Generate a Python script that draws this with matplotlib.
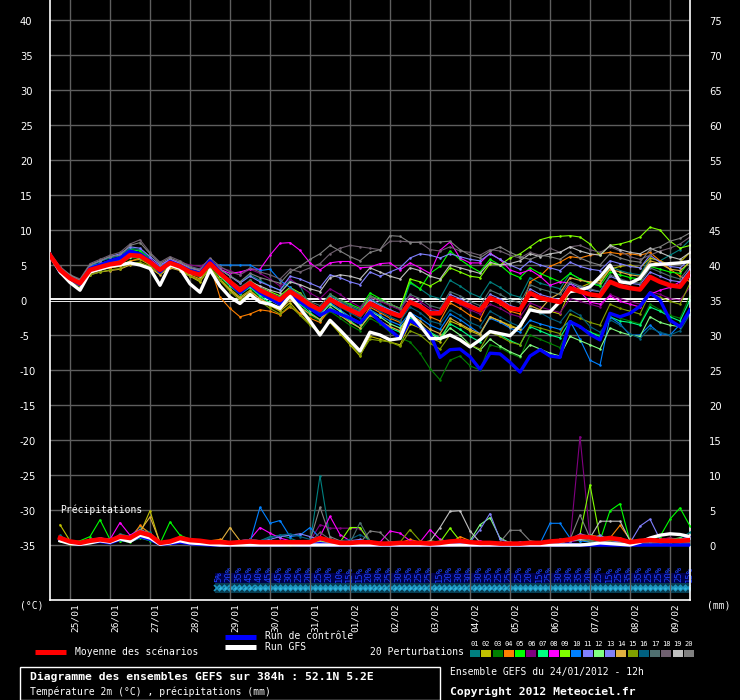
#!/usr/bin/env python3
"""GEFS ensemble diagram (Meteociel style): 2m temperature and precipitation, 52.1N 5.2E."""
import numpy as np
import matplotlib
matplotlib.use("Agg")
import matplotlib.pyplot as plt
import matplotlib.transforms as mtransforms
from matplotlib.lines import Line2D
from matplotlib.patches import Rectangle

plt.rcParams["font.family"] = ["DejaVu Sans Mono"]

W, H = 740, 700
STEP_H = 6
HOURS = list(range(0, 385, STEP_H))          # 65 forecast steps, 24/01 12h -> +384h
DAY_LABELS = ["25/01", "26/01", "27/01", "28/01", "29/01", "30/01", "31/01", "01/02",
              "02/02", "03/02", "04/02", "05/02", "06/02", "07/02", "08/02", "09/02"]

# temperature 2m (degC)
MEAN_T = [6.4, 4.3, 3.1, 2.4, 4.3, 4.7, 5.1, 5.3, 6.4, 6.3, 5.4, 4.3, 5.3, 4.8, 4.0, 3.6, 5.2,
          3.8, 2.6, 1.4, 2.4, 1.4, 0.7, 0.0, 1.2, 0.3, -0.7, -1.4, 0.1, -0.7, -1.4, -2.1,
          -0.5, -1.2, -1.8, -2.3, -0.3, -0.9, -1.9, -1.9, 0.3, -0.3, -0.9, -1.5, 0.3, -0.3, -1.2, -1.4,
          1.0, 0.3, 0.0, -0.3, 1.7, 1.2, 0.8, 0.6, 2.6, 2.0, 1.7, 1.5, 3.3, 2.6, 2.1, 1.9, 3.8]
CTRL_T = [6.5, 4.0, 3.0, 2.2, 4.5, 5.0, 5.6, 6.0, 7.0, 6.6, 5.6, 4.0, 5.5, 4.9, 4.2, 3.8, 5.6,
          4.0, 2.4, 1.0, 2.2, 1.0, 0.2, -0.6, 0.8, -0.3, -1.2, -2.2, -1.4, -2.0, -2.6, -3.3,
          -1.7, -3.1, -4.3, -5.5, -2.9, -3.8, -4.8, -8.2, -7.1, -7.0, -8.1, -9.9, -7.6, -7.7, -8.9, -10.3,
          -8.0, -7.1, -8.0, -8.2, -3.1, -3.8, -4.9, -5.7, -1.9, -2.4, -1.9, -0.9, 1.0, 0.0, -2.9, -3.8, -1.4]
GFS_T = [6.4, 4.0, 2.5, 1.4, 4.0, 4.4, 4.8, 5.0, 5.3, 5.0, 4.5, 2.1, 5.0, 4.5, 2.3, 1.1, 4.3,
         2.0, 0.4, -0.5, 0.8, -0.3, -0.6, -1.2, 0.6, -1.2, -3.0, -5.0, -2.9, -4.3, -5.8, -7.3,
         -4.6, -5.0, -5.7, -5.5, -1.9, -3.6, -5.5, -5.5, -5.0, -5.7, -6.7, -5.7, -4.5, -4.8, -5.1, -3.7,
         -1.4, -1.7, -1.7, -0.2, 1.2, 1.4, 1.9, 3.3, 5.0, 2.6, 2.4, 3.1, 5.0, 5.1, 5.2, 5.3, 5.5]
PERT_T = [
    [6.6, 4.5, 3.4, 2.6, 4.8, 5.5, 6.0, 6.3, 7.4, 7.2, 6.0, 4.6, 5.8, 5.2, 4.4, 4.0, 5.6,
     4.4, 3.5, 2.5, 3.6, 2.8, 2.0, 1.4, 2.8, 2.0, -0.8, -1.4, 0.6, -0.2, -1.0, -1.6,
     0.2, -0.6, -1.4, -2.0, 2.4, 1.6, 0.6, 0.2, 2.8, 2.0, 1.0, 0.4, 2.6, 1.8, 0.8, 0.4,
     3.2, 2.4, 2.0, 1.6, 3.8, 3.0, 2.4, 2.2, 4.8, 4.2, 3.8, 3.6, 6.0, 5.6, 6.4, 7.2, 8.6],
    [6.2, 4.0, 2.8, 2.0, 3.8, 4.3, 4.6, 4.8, 5.6, 5.8, 5.0, 3.8, 4.8, 4.4, 3.4, 2.6, 4.6,
     3.0, 1.6, 0.4, 1.4, 0.2, -0.8, -1.6, -0.4, -2.0, -3.4, -4.6, -3.2, -4.8, -6.4, -8.0,
     -5.2, -5.6, -6.0, -6.4, -3.4, -4.0, -5.4, -6.0, -3.0, -3.6, -4.4, -5.0, -2.4, -3.0, -3.6, -4.2,
     -1.2, -1.8, -1.6, -2.0, 1.4, 1.8, 2.4, 2.8, 4.4, 4.8, 5.0, 4.6, 6.0, 5.6, 5.0, 5.4, 6.8],
    [6.3, 4.2, 3.0, 2.3, 4.0, 4.4, 4.9, 5.0, 6.0, 6.0, 5.2, 4.0, 5.1, 4.6, 3.8, 3.2, 4.8,
     3.2, 2.0, 1.0, 1.8, 0.4, -0.6, -1.4, 0.2, -1.0, -2.2, -3.0, -1.6, -2.6, -3.6, -4.4,
     -2.6, -3.4, -4.6, -5.4, -6.0, -7.6, -9.8, -11.4, -8.6, -8.0, -9.4, -10.0, -6.4, -6.8, -7.6, -8.2,
     -5.0, -5.6, -6.2, -6.8, -3.4, -3.8, -4.6, -5.0, -2.0, -2.6, -3.0, -3.4, -0.6, -1.4, -2.2, -2.6, 0.6],
    [6.5, 4.4, 3.2, 2.5, 4.0, 4.4, 4.6, 4.9, 5.5, 6.0, 5.2, 4.0, 5.0, 4.5, 3.6, 3.0, 5.0,
     0.4, -1.2, -2.4, -2.0, -1.4, -1.6, -2.1, -1.0, -1.9, -2.6, -3.2, -1.2, -2.0, -2.8, -3.4,
     -1.0, -1.8, -2.6, -3.2, -0.2, -1.0, -2.4, -3.0, -0.4, -1.2, -2.2, -2.8, 0.2, -0.6, -1.6, -2.0,
     2.6, 3.4, 4.8, 5.4, 6.2, 6.0, 6.4, 6.6, 6.8, 6.6, 6.6, 6.4, 6.8, 5.6, 4.4, 3.4, 2.6],
    [6.4, 4.2, 3.2, 2.6, 4.6, 5.0, 5.6, 6.0, 7.2, 7.0, 5.8, 4.6, 5.6, 5.0, 4.2, 3.8, 5.4,
     3.6, 2.4, 1.2, 2.4, 1.0, 0.2, -0.6, 1.2, 0.2, -0.8, -1.6, 0.8, 0.0, -0.6, -1.2,
     1.0, 0.2, -0.6, -1.2, 2.6, 1.6, 3.8, 4.8, 7.0, 5.8, 4.8, 4.0, 5.8, 5.0, 3.8, 3.2,
     4.6, 3.8, 3.2, 2.6, 3.8, 3.0, 2.4, 2.0, 4.0, 3.6, 3.2, 3.0, 4.8, 4.4, 4.0, 3.8, 5.6],
    [6.6, 4.6, 3.4, 2.6, 4.4, 4.9, 5.4, 5.6, 6.6, 6.4, 5.6, 4.6, 5.8, 5.4, 5.0, 4.8, 5.6,
     4.6, 4.2, 3.6, 4.4, 3.8, 3.0, 2.0, 3.0, 2.0, 1.0, 0.2, 1.6, 0.8, -0.2, -1.0,
     0.4, -0.2, -0.8, -1.4, 0.6, -0.2, -1.2, -1.6, 0.2, -0.6, -1.4, -2.0, -0.6, -1.2, -2.0, -2.4,
     -0.4, -1.0, -1.4, -1.8, 0.2, -0.2, -0.6, -1.0, 0.8, 0.2, -0.2, -0.6, 1.2, 0.8, 0.2, 0.0, 1.8],
    [6.2, 4.0, 2.9, 2.2, 4.2, 4.6, 5.0, 5.2, 6.2, 6.0, 5.2, 4.2, 5.2, 4.6, 3.8, 3.4, 5.0,
     3.4, 2.0, 0.8, 1.8, 0.6, -0.4, -1.2, 0.4, -0.6, -1.8, -2.8, -1.0, -2.0, -3.0, -4.0,
     -2.0, -3.0, -4.0, -4.6, -2.6, -3.6, -4.6, -5.4, -3.4, -4.2, -5.2, -6.0, -4.4, -5.0, -5.8, -6.4,
     -3.8, -4.4, -5.0, -5.4, -3.0, -3.8, -4.6, -5.2, -2.4, -3.0, -3.2, -3.6, -1.0, -1.6, -2.4, -3.0, 0.0],
    [6.5, 4.4, 3.2, 2.6, 4.6, 5.2, 5.6, 5.8, 6.8, 6.6, 5.8, 4.8, 5.8, 5.2, 4.6, 4.2, 5.8,
     4.4, 3.8, 4.0, 4.4, 4.4, 6.4, 8.1, 8.2, 7.1, 5.3, 4.3, 5.3, 5.5, 5.5, 4.6,
     4.7, 5.2, 5.3, 4.3, 5.3, 4.6, 3.8, 7.1, 8.3, 6.0, 5.3, 5.3, 6.7, 5.8, 4.3, 3.8,
     4.3, 3.4, 2.1, 2.6, 2.4, 1.2, -0.3, -0.6, 0.6, -0.2, -0.6, -1.0, 0.8, 1.4, 1.8, 2.6, 3.6],
    [6.4, 4.2, 3.0, 2.4, 4.4, 4.8, 5.2, 5.4, 6.4, 6.4, 5.6, 4.4, 5.4, 4.8, 4.0, 3.6, 5.4,
     3.6, 2.4, 1.6, 2.8, 1.8, 1.2, 0.6, 1.8, 1.0, -0.4, -1.2, 0.2, -0.6, -1.4, -2.0,
     0.6, 0.0, -0.6, -1.2, 3.0, 2.6, 2.0, 2.8, 4.6, 4.0, 3.4, 3.2, 5.2, 5.0, 6.0, 6.6,
     7.6, 8.6, 9.0, 9.1, 9.2, 9.0, 8.0, 6.4, 7.8, 8.0, 8.4, 9.0, 10.4, 10.0, 8.4, 7.4, 7.8],
    [6.6, 4.6, 3.4, 2.8, 4.8, 5.2, 5.6, 5.8, 6.6, 6.2, 5.6, 4.8, 5.6, 5.0, 4.6, 4.4, 5.0,
     5.0, 5.0, 5.0, 5.0, 4.2, 4.4, 2.8, 1.8, 0.6, -0.6, -2.0, -0.4, -1.4, -2.4, -3.2,
     -1.4, -2.2, -3.0, -3.6, -1.8, -2.6, -3.6, -4.2, -2.0, -2.8, -3.8, -4.8, -2.6, -3.2, -4.0, -4.6,
     -2.9, -3.4, -3.8, -4.2, -3.0, -5.6, -8.6, -9.3, -2.4, -3.4, -5.0, -5.0, -3.6, -4.8, -5.0, -3.5, -2.0],
    [6.6, 4.6, 3.4, 2.8, 5.0, 5.6, 6.2, 6.6, 7.6, 7.4, 6.2, 5.0, 5.8, 5.2, 4.6, 4.2, 5.8,
     4.4, 3.4, 2.4, 3.4, 2.6, 2.0, 1.4, 3.4, 3.0, 2.4, 1.8, 3.6, 3.2, 2.6, 2.2,
     4.0, 3.4, 4.0, 4.6, 6.0, 6.6, 6.4, 6.0, 6.6, 6.2, 5.8, 5.6, 6.6, 5.8, 5.0, 4.4,
     5.6, 5.0, 4.6, 4.2, 5.4, 4.8, 4.4, 4.2, 5.6, 5.2, 4.8, 4.6, 6.4, 5.4, 4.8, 4.6, 5.8],
    [6.3, 4.1, 2.9, 2.2, 4.2, 4.6, 5.0, 5.2, 6.2, 6.2, 5.3, 4.2, 5.2, 4.7, 3.9, 3.5, 5.0,
     3.4, 2.2, 1.0, 2.0, 0.8, 0.0, -0.8, 0.6, -0.4, -1.4, -2.2, -0.6, -1.6, -2.6, -3.4,
     -1.6, -2.4, -3.4, -4.0, -2.2, -3.4, -4.8, -5.6, -4.0, -5.0, -6.4, -7.2, -5.6, -6.6, -7.4, -8.0,
     -6.4, -7.0, -7.6, -8.0, -5.2, -5.8, -6.4, -7.0, -4.0, -4.6, -5.0, -5.2, -2.4, -3.2, -3.6, -3.8, -1.4],
    [6.5, 4.4, 3.2, 2.5, 4.4, 4.8, 5.2, 5.4, 6.4, 6.2, 5.4, 4.4, 5.4, 4.9, 4.1, 3.7, 5.3,
     3.8, 2.6, 1.6, 2.6, 1.6, 0.8, 0.2, 1.4, 0.4, -0.6, -1.2, 0.4, -0.4, -1.2, -1.8,
     0.0, -0.8, -1.4, -2.0, 0.0, -0.6, -1.6, -1.6, 0.8, 0.2, -0.6, -1.2, 0.8, 0.2, -0.8, -1.2,
     1.6, 0.8, 0.4, 0.0, 2.4, 1.8, 1.4, 1.2, 3.4, 2.8, 2.4, 2.2, 4.0, 3.4, 2.8, 2.6, 4.4],
    [6.3, 4.0, 2.8, 2.0, 3.6, 4.0, 4.2, 4.4, 5.0, 5.2, 4.6, 3.6, 4.6, 4.2, 3.4, 2.8, 4.6,
     2.8, 1.4, 0.2, 1.2, 0.2, -0.6, -1.4, 0.0, -1.0, -2.0, -2.8, -1.2, -2.2, -3.2, -4.0,
     -2.2, -3.0, -3.8, -4.4, -2.0, -3.0, -4.2, -4.8, -2.6, -3.4, -4.2, -4.8, -2.4, -3.0, -3.8, -4.2,
     -0.8, -1.4, 0.2, 1.0, 3.2, 2.8, 2.6, 2.4, 4.4, 4.0, 3.6, 3.4, 5.6, 5.2, 4.4, 4.2, 5.4],
    [6.2, 3.9, 2.7, 1.9, 3.6, 4.0, 4.3, 4.5, 5.2, 5.4, 4.8, 3.8, 4.8, 4.3, 3.4, 2.8, 4.6,
     2.8, 1.2, 0.0, 1.0, -0.2, -1.2, -2.0, -0.8, -2.2, -3.6, -4.8, -3.0, -4.6, -6.2, -7.8,
     -5.6, -5.8, -6.0, -6.6, -4.4, -5.0, -6.2, -7.0, -5.0, -5.6, -6.4, -7.0, -4.6, -5.2, -6.0, -6.4,
     -3.6, -4.0, -4.4, -4.8, -2.0, -2.6, -3.2, -3.6, -0.6, -1.2, -1.6, -2.0, 1.0, 0.4, -0.2, -0.6, 2.4],
    [6.5, 4.3, 3.1, 2.4, 4.4, 4.8, 5.2, 5.4, 6.4, 6.4, 5.5, 4.4, 5.4, 4.9, 4.1, 3.7, 5.3,
     3.8, 2.6, 1.4, 2.4, 1.4, 0.6, -0.2, 1.0, 0.0, -1.0, -1.8, -0.2, -1.0, -1.8, -2.6,
     -0.8, -1.6, -2.4, -3.0, -1.0, -1.8, -3.0, -3.4, -1.4, -2.2, -3.2, -3.8, -1.6, -2.4, -3.2, -3.8,
     -1.2, -1.8, -2.6, -3.2, -1.4, -2.2, -3.8, -4.6, -2.8, -3.6, -4.8, -5.5, -4.0, -4.6, -5.0, -4.4, -2.0],
    [6.4, 4.4, 3.4, 2.7, 4.6, 5.0, 5.4, 5.6, 6.8, 6.6, 5.6, 4.6, 5.6, 5.0, 4.2, 3.8, 5.4,
     4.0, 2.8, 1.8, 2.8, 1.8, 1.0, 0.4, 1.6, 0.8, -0.2, -0.8, 0.8, 0.0, -0.8, -1.4,
     0.6, 0.0, -0.6, -1.2, 0.8, 0.2, -0.8, -1.2, 1.2, 0.6, -0.2, -0.8, 1.4, 0.8, 0.0, -0.4,
     2.2, 1.6, 1.2, 0.8, 2.6, 2.0, 1.6, 1.2, 3.6, 3.0, 2.6, 2.4, 4.6, 4.0, 3.4, 3.0, 4.8],
    [6.7, 4.8, 3.6, 3.0, 5.2, 5.8, 6.4, 6.8, 8.0, 8.6, 6.8, 5.4, 6.2, 5.6, 4.8, 4.4, 6.0,
     4.8, 4.0, 3.6, 4.6, 4.0, 3.6, 3.0, 4.4, 4.0, 4.6, 5.2, 6.6, 7.4, 7.8, 7.6,
     7.4, 7.2, 8.4, 8.4, 8.3, 8.2, 7.2, 7.0, 7.6, 7.0, 6.8, 6.4, 7.2, 7.0, 6.4, 6.0,
     6.8, 6.4, 7.4, 6.8, 7.6, 7.8, 7.2, 6.8, 7.6, 7.0, 6.2, 5.8, 6.4, 7.0, 7.4, 8.0, 9.0],
    [6.4, 4.2, 3.0, 2.4, 4.2, 4.6, 5.0, 5.2, 6.2, 6.2, 5.4, 4.2, 5.2, 4.6, 3.9, 3.5, 5.1,
     3.6, 2.4, 1.4, 2.6, 2.0, 1.4, 1.0, 2.6, 2.2, 1.6, 1.2, 3.2, 3.6, 3.4, 3.0,
     4.6, 4.0, 3.4, 3.0, 4.6, 4.2, 3.4, 3.0, 5.0, 4.6, 4.2, 3.8, 5.4, 5.0, 5.2, 5.6,
     6.6, 6.2, 6.6, 6.8, 7.6, 7.0, 6.6, 6.4, 7.8, 7.2, 6.8, 6.6, 7.4, 6.8, 6.2, 5.8, 6.8],
    [6.6, 4.6, 3.6, 2.8, 5.0, 5.6, 6.2, 6.4, 7.8, 8.2, 6.6, 5.2, 6.0, 5.4, 4.6, 4.2, 5.8,
     4.4, 3.4, 2.6, 3.8, 3.2, 2.8, 2.4, 4.0, 4.8, 5.8, 6.6, 7.8, 7.0, 6.2, 5.6,
     6.8, 7.2, 9.2, 9.1, 8.2, 8.3, 8.3, 8.3, 8.4, 7.2, 6.4, 6.0, 7.0, 7.6, 6.8, 6.2,
     5.8, 6.4, 6.2, 5.8, 6.8, 6.0, 5.4, 5.0, 6.6, 6.0, 5.6, 5.4, 7.2, 7.6, 8.4, 8.8, 9.6],
]

# 6-hourly precipitation (mm), steps +6h .. +384h
MEAN_P = [1.0, 0.5, 0.3, 0.6, 0.8, 0.6, 1.2, 1.0, 1.8, 1.4, 0.3, 0.5, 1.0, 0.7, 0.6, 0.4,
          0.4, 0.3, 0.4, 0.5, 0.4, 0.4, 0.4, 0.4, 0.4, 0.4, 1.0, 0.6, 0.3, 0.3, 0.4, 0.4,
          0.2, 0.2, 0.3, 0.3, 0.3, 0.2, 0.3, 0.5, 0.6, 0.4, 0.3, 0.3, 0.2, 0.2, 0.2, 0.3,
          0.3, 0.5, 0.6, 0.8, 1.2, 1.1, 0.8, 1.0, 0.8, 0.4, 0.6, 0.7, 0.6, 0.6, 0.6, 0.7]
CTRL_P = [0.8, 0.3, 0.1, 0.4, 0.5, 0.3, 0.8, 0.6, 1.2, 0.8, 0.1, 0.2, 0.4, 0.2, 0.1, 0.0,
          0.0, 0.0, 0.1, 0.0, 0.0, 0.0, 0.0, 0.1, 0.0, 0.0, 0.2, 0.0, 0.0, 0.0, 0.0, 0.0,
          0.0, 0.0, 0.0, 0.0, 0.0, 0.0, 0.0, 0.0, 0.1, 0.0, 0.0, 0.0, 0.0, 0.0, 0.0, 0.0,
          0.0, 0.0, 0.0, 0.1, 0.0, 0.0, 0.0, 0.0, 0.0, 0.0, 0.0, 0.0, 0.0, 0.0, 0.0, 0.0]
GFS_P = [0.6, 0.2, 0.1, 0.3, 0.6, 0.4, 0.9, 0.5, 1.4, 1.0, 0.1, 0.3, 0.6, 0.3, 0.2, 0.1,
         0.0, 0.0, 0.0, 0.0, 0.0, 0.0, 0.0, 0.0, 0.0, 0.0, 0.0, 0.0, 0.0, 0.0, 0.0, 0.0,
         0.0, 0.0, 0.0, 0.0, 0.0, 0.0, 0.0, 0.0, 0.0, 0.0, 0.0, 0.0, 0.0, 0.0, 0.0, 0.0,
         0.0, 0.0, 0.0, 0.0, 0.0, 0.1, 0.3, 0.2, 0.1, 0.0, 0.4, 1.0, 1.4, 1.6, 1.5, 1.2]
PERT_P = [
    [1.4, 0.4, 0.2, 0.8, 0.6, 0.4, 1.6, 1.2, 2.6, 1.8, 0.2, 0.4, 1.2, 0.6, 0.4, 0.2,
     0.2, 0.1, 0.2, 0.4, 0.6, 1.2, 1.4, 1.0, 0.4, 0.2, 9.9, 1.0, 0.2, 0.4, 0.6, 0.2,
     0.1, 0.0, 0.1, 0.2, 0.4, 0.2, 0.1, 0.3, 0.4, 0.2, 0.1, 0.1, 0.0, 0.2, 0.3, 0.2,
     0.3, 0.4, 0.6, 0.8, 1.0, 1.2, 0.6, 0.4, 0.2, 0.1, 0.3, 0.4, 0.2, 0.6, 1.0, 1.8],
    [2.9, 0.6, 0.2, 0.4, 0.8, 0.6, 0.6, 0.8, 1.6, 4.9, 0.2, 0.2, 0.6, 0.4, 0.4, 0.2,
     0.2, 0.4, 0.2, 0.3, 0.1, 0.1, 0.2, 0.4, 0.2, 0.1, 0.3, 0.2, 0.1, 0.2, 0.3, 0.1,
     0.0, 0.1, 0.2, 0.4, 0.1, 0.0, 0.2, 0.6, 0.3, 0.1, 0.0, 0.1, 0.2, 0.1, 0.0, 0.1,
     0.2, 0.3, 0.5, 0.6, 0.8, 0.4, 0.6, 1.2, 0.6, 0.3, 0.2, 0.4, 0.6, 0.8, 1.0, 0.6],
    [0.8, 0.2, 0.1, 0.5, 1.0, 0.4, 0.8, 1.2, 2.0, 1.2, 0.2, 0.6, 1.0, 0.8, 0.6, 0.2,
     0.1, 0.2, 0.3, 0.2, 0.1, 0.2, 0.1, 0.0, 0.1, 0.2, 0.4, 0.2, 0.1, 0.0, 0.1, 0.2,
     0.1, 0.0, 0.0, 0.1, 0.2, 0.1, 0.0, 0.1, 0.2, 0.1, 0.0, 0.0, 0.1, 0.0, 0.1, 0.2,
     0.1, 0.2, 0.4, 0.6, 1.0, 0.8, 0.6, 0.8, 0.4, 0.2, 0.3, 0.4, 0.2, 0.3, 0.2, 0.4],
    [1.2, 0.6, 0.2, 0.4, 0.8, 0.6, 1.4, 0.8, 2.8, 1.6, 0.2, 0.4, 1.2, 0.6, 0.4, 0.6,
     0.8, 0.4, 0.2, 0.3, 0.2, 0.1, 0.2, 0.3, 0.2, 0.4, 0.6, 0.3, 0.2, 0.1, 0.2, 0.3,
     0.2, 0.1, 0.3, 0.8, 0.4, 0.2, 0.1, 0.2, 1.2, 0.6, 0.2, 0.1, 0.2, 0.3, 0.1, 0.2,
     0.3, 0.4, 0.8, 0.6, 1.0, 1.4, 1.2, 1.0, 2.8, 0.8, 0.4, 0.6, 0.8, 1.0, 0.6, 0.4],
    [0.6, 0.4, 0.6, 1.2, 3.6, 0.8, 0.6, 0.4, 1.0, 0.6, 0.2, 3.3, 1.4, 0.8, 0.4, 0.2,
     0.1, 0.2, 0.4, 0.3, 0.2, 0.4, 0.6, 0.3, 0.2, 0.1, 0.6, 0.4, 0.2, 0.3, 0.2, 0.1,
     0.0, 0.2, 0.4, 0.3, 0.1, 0.2, 0.6, 0.4, 0.2, 0.1, 0.3, 0.2, 0.1, 0.0, 0.2, 0.4,
     0.3, 0.5, 0.4, 0.6, 0.8, 1.2, 0.6, 4.9, 5.9, 0.5, 0.4, 0.8, 1.2, 3.7, 5.3, 2.7],
    [1.0, 0.4, 0.2, 0.6, 0.6, 0.4, 1.0, 0.6, 1.4, 1.2, 0.2, 0.4, 0.8, 0.6, 0.4, 0.2,
     0.1, 0.2, 0.1, 0.2, 0.3, 0.2, 0.1, 0.2, 0.4, 0.6, 2.9, 2.4, 2.4, 2.4, 2.3, 0.6,
     0.2, 0.1, 0.2, 0.3, 0.2, 0.1, 0.2, 0.3, 0.2, 0.1, 0.2, 0.1, 0.2, 0.3, 0.1, 0.2,
     0.2, 0.3, 0.4, 0.4, 15.5, 1.0, 0.6, 0.4, 0.3, 0.2, 0.4, 0.6, 0.8, 1.0, 0.8, 1.2],
    [1.0, 0.4, 0.2, 0.6, 0.8, 0.4, 1.0, 0.8, 1.6, 1.0, 0.2, 0.6, 0.8, 0.4, 0.4, 0.2,
     0.1, 0.1, 0.2, 0.2, 0.1, 0.3, 0.2, 0.1, 0.2, 0.3, 0.8, 0.4, 0.2, 0.1, 0.2, 0.1,
     0.0, 0.1, 0.2, 0.1, 0.0, 0.1, 0.2, 0.4, 0.2, 0.1, 0.0, 0.1, 0.2, 0.1, 0.0, 0.1,
     0.2, 0.4, 0.6, 0.8, 0.6, 1.4, 0.8, 1.0, 0.6, 0.3, 0.2, 0.4, 0.6, 0.8, 1.0, 0.8],
    [1.2, 0.4, 0.2, 0.6, 1.0, 0.8, 3.2, 1.4, 2.2, 1.6, 0.4, 0.6, 1.0, 0.6, 0.6, 0.4,
     0.4, 0.3, 0.6, 0.8, 2.5, 1.7, 1.0, 0.6, 0.4, 0.3, 1.2, 4.1, 1.5, 0.6, 0.4, 0.2,
     0.4, 2.0, 1.7, 0.6, 0.4, 2.2, 0.8, 0.4, 0.2, 0.3, 0.6, 0.2, 0.1, 0.2, 0.4, 0.3,
     0.2, 0.6, 0.8, 0.5, 0.7, 0.6, 0.4, 0.5, 0.3, 0.2, 0.4, 0.5, 0.4, 0.6, 0.5, 0.4],
    [0.8, 0.4, 0.2, 0.4, 0.6, 0.4, 1.0, 0.8, 1.6, 1.2, 0.2, 0.4, 0.8, 0.4, 0.4, 0.2,
     0.2, 0.1, 0.2, 0.2, 0.3, 0.2, 0.4, 0.3, 0.2, 0.1, 0.6, 0.4, 0.4, 2.5, 2.5, 0.4,
     0.2, 0.1, 0.2, 0.3, 0.2, 0.1, 0.4, 2.4, 0.6, 0.2, 0.1, 0.2, 0.3, 0.2, 0.1, 0.2,
     0.2, 0.3, 0.4, 0.6, 1.5, 8.6, 1.0, 0.6, 0.4, 0.3, 0.4, 0.6, 0.5, 0.4, 0.6, 0.8],
    [1.0, 0.6, 0.2, 0.6, 0.8, 0.6, 1.4, 1.0, 2.0, 1.4, 0.4, 0.6, 1.0, 0.6, 0.4, 0.3,
     0.2, 0.2, 0.3, 0.4, 5.4, 3.1, 3.5, 1.2, 1.4, 2.5, 1.0, 0.6, 0.4, 0.3, 0.2, 0.1,
     0.1, 0.0, 0.1, 0.2, 0.1, 0.2, 0.4, 0.3, 0.2, 0.1, 0.0, 0.1, 0.2, 0.1, 0.0, 0.1,
     0.2, 3.1, 3.1, 1.0, 0.6, 0.4, 0.2, 0.1, 0.2, 0.3, 0.2, 0.1, 0.2, 0.4, 0.3, 0.2],
    [1.2, 0.6, 0.4, 0.8, 1.0, 0.8, 1.4, 1.2, 2.2, 1.6, 0.4, 0.6, 1.2, 0.8, 0.6, 0.4,
     0.3, 0.4, 0.6, 0.8, 0.6, 0.8, 1.2, 1.4, 1.6, 1.2, 0.8, 0.6, 0.4, 0.6, 0.8, 0.4,
     0.2, 0.4, 0.3, 0.2, 0.4, 0.3, 0.2, 0.4, 0.6, 0.3, 0.4, 0.2, 0.3, 0.2, 0.4, 0.3,
     0.4, 0.5, 0.6, 0.8, 1.6, 1.2, 0.8, 0.6, 0.4, 0.3, 2.7, 3.7, 0.8, 0.6, 0.8, 1.2],
    [0.8, 0.4, 0.2, 0.6, 0.8, 0.4, 1.2, 0.8, 1.8, 1.2, 0.2, 0.4, 0.8, 0.6, 0.4, 0.2,
     0.1, 0.2, 0.3, 0.2, 0.1, 0.2, 0.3, 0.2, 0.1, 0.2, 0.6, 0.3, 0.2, 0.1, 0.2, 0.1,
     0.1, 0.2, 0.1, 0.2, 0.3, 0.2, 0.1, 0.2, 0.4, 0.6, 2.9, 3.9, 1.0, 0.3, 0.2, 0.1,
     0.2, 0.3, 0.4, 0.6, 0.8, 0.6, 0.4, 0.8, 0.6, 0.4, 0.3, 0.4, 0.5, 0.4, 0.6, 0.5],
    [1.0, 0.4, 0.2, 0.6, 0.8, 0.6, 1.2, 0.8, 1.8, 1.4, 0.2, 0.4, 1.0, 0.6, 0.4, 0.2,
     0.2, 0.3, 0.4, 0.2, 0.3, 0.2, 0.4, 0.3, 0.2, 0.4, 0.8, 0.4, 0.2, 0.3, 0.4, 0.2,
     0.1, 0.2, 0.3, 0.2, 0.1, 0.2, 0.3, 0.4, 0.2, 0.4, 2.2, 4.5, 0.8, 0.3, 0.2, 0.2,
     0.3, 0.4, 0.5, 0.6, 1.0, 0.8, 1.4, 0.6, 0.4, 0.3, 0.4, 0.6, 0.5, 0.4, 0.6, 0.8],
    [0.8, 0.4, 0.2, 0.6, 0.8, 0.6, 1.0, 0.8, 2.0, 4.0, 0.4, 0.6, 1.0, 0.6, 0.4, 0.2,
     0.4, 2.5, 0.6, 0.4, 0.2, 0.3, 0.4, 0.2, 0.1, 0.2, 0.4, 0.2, 0.1, 0.2, 0.3, 0.2,
     0.1, 0.2, 0.1, 0.2, 0.3, 0.6, 0.4, 0.2, 0.1, 0.2, 0.3, 0.2, 0.1, 0.2, 0.3, 0.2,
     0.2, 0.4, 0.6, 0.8, 1.2, 1.0, 0.8, 0.6, 1.0, 0.4, 0.3, 0.6, 0.4, 0.3, 0.5, 0.6],
    [0.8, 0.2, 0.1, 0.4, 0.6, 0.4, 0.8, 0.6, 1.4, 1.0, 0.2, 0.4, 0.6, 0.4, 0.3, 0.2,
     0.1, 0.2, 0.1, 0.2, 0.1, 0.2, 0.3, 0.2, 0.1, 0.2, 0.4, 0.2, 0.1, 0.2, 0.1, 0.2,
     0.1, 0.2, 0.4, 2.2, 0.6, 0.2, 0.1, 0.2, 0.4, 0.2, 0.1, 0.2, 0.1, 0.2, 0.3, 0.2,
     0.3, 0.2, 0.4, 0.6, 0.8, 0.6, 0.4, 0.6, 0.8, 0.4, 0.3, 0.2, 0.4, 0.6, 0.4, 0.3],
    [1.2, 0.6, 0.4, 0.6, 0.8, 0.6, 1.2, 1.0, 2.0, 1.6, 0.4, 0.6, 1.0, 0.8, 0.6, 0.4,
     0.3, 0.4, 0.6, 0.8, 0.6, 1.0, 1.4, 1.6, 1.2, 0.8, 1.0, 0.8, 0.6, 0.8, 1.5, 0.6,
     0.2, 0.1, 0.2, 0.3, 0.2, 0.1, 0.2, 0.4, 0.2, 0.1, 0.2, 0.3, 0.2, 0.1, 0.2, 0.3,
     0.4, 0.5, 0.8, 0.6, 0.8, 1.0, 0.6, 0.4, 0.3, 0.2, 0.3, 0.4, 0.5, 0.4, 0.3, 0.4],
    [1.0, 0.4, 0.2, 0.6, 0.8, 0.6, 1.2, 1.0, 2.0, 1.4, 0.2, 0.4, 1.0, 0.6, 0.4, 0.3,
     0.2, 0.3, 0.2, 0.4, 0.3, 0.2, 0.4, 0.3, 0.2, 0.4, 1.0, 0.6, 0.4, 0.3, 3.2, 0.6,
     0.2, 0.1, 0.2, 0.3, 0.2, 0.1, 0.2, 0.3, 0.2, 0.1, 0.2, 0.1, 0.2, 0.1, 0.2, 0.3,
     0.3, 0.4, 0.6, 0.8, 1.0, 0.6, 0.4, 0.5, 0.3, 0.2, 0.4, 0.5, 0.3, 0.4, 0.3, 0.2],
    [1.0, 0.6, 0.4, 0.6, 0.8, 0.6, 1.2, 0.8, 1.8, 1.2, 0.2, 0.6, 1.0, 0.6, 0.4, 0.2,
     0.2, 0.3, 0.2, 0.4, 0.3, 0.4, 0.6, 0.4, 0.2, 0.4, 1.8, 0.8, 0.4, 0.2, 0.3, 0.2,
     0.1, 0.2, 0.1, 0.2, 0.3, 0.2, 0.1, 0.2, 0.3, 0.4, 0.2, 0.1, 0.2, 0.3, 0.2, 0.1,
     0.2, 0.3, 0.4, 0.6, 0.8, 1.0, 0.6, 0.4, 0.3, 0.5, 0.4, 0.3, 0.4, 0.5, 0.4, 0.6],
    [0.8, 0.4, 0.2, 0.4, 0.6, 0.4, 1.0, 0.6, 1.4, 1.0, 0.2, 0.4, 0.6, 0.4, 0.3, 0.2,
     0.1, 0.2, 0.1, 0.2, 0.1, 0.2, 0.1, 0.2, 0.1, 0.2, 0.4, 0.2, 0.1, 0.2, 0.1, 0.2,
     0.3, 0.4, 0.3, 0.2, 0.3, 0.5, 2.5, 4.8, 4.9, 2.0, 0.4, 0.2, 0.3, 0.4, 0.2, 0.3,
     0.2, 0.3, 0.4, 0.6, 0.8, 1.0, 3.4, 3.4, 3.4, 0.6, 0.4, 0.5, 0.4, 0.6, 0.8, 1.0],
    [1.2, 0.6, 0.4, 0.6, 0.8, 0.6, 1.2, 1.0, 2.2, 1.6, 0.4, 0.6, 1.0, 0.6, 0.4, 0.3,
     0.3, 0.4, 0.3, 0.4, 0.3, 0.4, 0.6, 0.4, 0.3, 0.6, 5.4, 1.2, 0.6, 0.4, 0.3, 2.0,
     1.8, 0.4, 0.3, 0.2, 0.3, 0.4, 0.2, 0.3, 0.4, 0.2, 0.3, 0.2, 0.4, 2.1, 2.1, 0.6,
     0.4, 0.3, 0.6, 0.8, 4.3, 1.0, 0.6, 0.4, 0.3, 0.2, 0.4, 0.5, 0.4, 0.6, 0.5, 0.4],
]

# percentages printed along the bottom band, steps +102h .. +384h
PCT_START = 17
PCT = [5, 20, 35, 45, 40, 45, 45, 30, 25, 20, 25, 20, 10, 15, 15, 20, 30, 25, 30, 35, 25, 25, 15,
       20, 30, 30, 30, 35, 25, 25, 25, 20, 15, 25, 30, 30, 35, 20, 25, 15, 25, 35, 35, 25, 25, 20,
       25, 15]

PERT_COLORS = ["#008080", "#c0c000", "#008000", "#ff8000", "#00ff00", "#800080", "#00ff80",
               "#ff00ff", "#80ff00", "#0080ff", "#8080ff", "#80ff80", "#8080f8", "#e0b040",
               "#80a000", "#006080", "#4f6f70", "#706070", "#c0c0c0", "#808080"]

GRID = "#5e5e5e"
T_LIM = (-300 / 7, 300 / 7)   # 7 px per degree, 0 degC at the middle


def px(x, y):
    """Figure fraction from pixel position (y counted from the top)."""
    return x / W, 1 - y / H


def main():
    fig = plt.figure(figsize=(W / 100, H / 100), dpi=100, facecolor="black")
    ax = fig.add_axes([50 / W, 100 / H, 640 / W, 600 / H])
    ax.set_facecolor("black")
    ax.set_xlim(0, 384)
    ax.set_ylim(*T_LIM)
    ax.set_yticks(np.arange(-35, 41, 5))
    ax.set_xticks(np.arange(12, 384, 24))
    ax.set_axisbelow(True)
    ax.grid(color=GRID, lw=1.0)
    ax.tick_params(length=0, labelleft=False, labelbottom=False)
    for s in ("left", "right", "bottom"):
        ax.spines[s].set_color("white")
        ax.spines[s].set_linewidth(1.2)
    ax.spines["top"].set_visible(False)

    hours = np.array(HOURS)

    # zero line (double white)
    ax.axhline(0, color="white", lw=2.8, zorder=1.6)
    ax.axhline(0, color="black", lw=0.8, zorder=1.7)

    # bottom band with the percentages and the symbol row
    h_px = 384 / 640
    t_px = 1 / 7
    x0 = (215 - 50) * h_px
    ax.add_patch(Rectangle((x0, -(583 - 300) * t_px), 384 - x0, 10 * t_px,
                           facecolor="#000048", edgecolor="none", zorder=0.3))
    ax.add_patch(Rectangle((x0, -(593 - 300) * t_px), 384 - x0, 10 * t_px,
                           facecolor="#083c50", edgecolor="none", zorder=0.3))
    sym_x = np.arange(x0 + 1.5, 384, 3.0)
    ax.plot(sym_x, np.full(len(sym_x), -(588 - 300) * t_px), ls="none", marker="x",
            ms=4.0, mew=1.2, color="#1c98c4", zorder=0.35)
    ax.plot(sym_x + 1.5, np.full(len(sym_x), -(588 - 300) * t_px), ls="none", marker="o",
            ms=2.0, mew=0, color="#30b8e0", zorder=0.36)
    for k, p in enumerate(PCT):
        h = hours[PCT_START + k] - 1 * h_px
        ax.text(h, -(582 - 300) * t_px, f"{p}%", rotation=90, ha="center", va="bottom",
                fontsize=6.4, color="#1f40ff", zorder=0.4)

    # temperature
    for vals, c in zip(PERT_T, PERT_COLORS):
        ax.plot(hours, vals, color=c, lw=0.8, marker="o", ms=1.8, mew=0, zorder=2)
    ax.plot(hours, CTRL_T, color="#0000ff", lw=2.4, zorder=3)
    ax.plot(hours, GFS_T, color="white", lw=2.4, zorder=3.2)
    ax.plot(hours, MEAN_T, color="#ff0000", lw=3.3, zorder=3.5)

    # precipitation on the right-hand scale (0 mm at -35 degC)
    ax2 = ax.twinx()
    ax2.set_ylim(T_LIM[0] + 35, T_LIM[1] + 35)
    ax2.axis("off")
    ph = hours[1:]
    for vals, c in zip(PERT_P, PERT_COLORS):
        ax2.plot(ph, vals, color=c, lw=0.8, marker="o", ms=1.8, mew=0, zorder=2)
    ax2.plot(ph, CTRL_P, color="#0000ff", lw=2.4, zorder=3)
    ax2.plot(ph, GFS_P, color="white", lw=2.4, zorder=3.2)
    ax2.plot(ph, MEAN_P, color="#ff0000", lw=3.3, zorder=3.5)

    ax.text(6, -30, "Précipitations", color="white", fontsize=7, va="center", zorder=5)

    # axis labels
    tl = mtransforms.blended_transform_factory(fig.transFigure, ax.transData)
    for v in range(-35, 41, 5):
        ax.text(20 / W, v - 0.3, str(v), transform=tl, color="white", fontsize=7.2,
                ha="left", va="center", family="DejaVu Sans")
    tr = mtransforms.blended_transform_factory(fig.transFigure, ax2.transData)
    for v in range(0, 76, 5):
        ax2.text(709 / W, v - 0.3, str(v), transform=tr, color="white", fontsize=7.2,
                 ha="left", va="center", family="DejaVu Sans")
    td = mtransforms.offset_copy(ax.get_xaxis_transform(), fig=fig, x=5, y=-3, units="dots")
    for h, lab in zip(np.arange(12, 384, 24), DAY_LABELS):
        ax.text(h, 0, lab, transform=td, rotation=90, ha="center", va="top",
                color="white", fontsize=6.8)
    fig.text(*px(20, 606), "(°C)", color="white", fontsize=7, va="center")
    fig.text(*px(707, 606), "(mm)", color="white", fontsize=7, va="center")

    # legend
    def bar(x1, x2, y, c):
        (a, b), (cc, _) = px(x1, y), px(x2, y)
        fig.add_artist(Line2D([a, cc], [b, b], color=c, lw=3.6, solid_capstyle="butt"))

    bar(35, 66, 652, "#ff0000")
    fig.text(*px(75, 652), "Moyenne des scénarios", color="white", fontsize=7, va="center")
    bar(225, 256, 637, "#0000ff")
    bar(225, 256, 647, "white")
    fig.text(*px(265, 636), "Run de contrôle", color="white", fontsize=7, va="center")
    fig.text(*px(265, 647), "Run GFS", color="white", fontsize=7, va="center")
    fig.text(*px(370, 652), "20 Perturbations", color="white", fontsize=7, va="center")
    for k, c in enumerate(PERT_COLORS):
        x = 470 + k * 11.25
        fig.text(*px(x + 5, 644), f"{k + 1:02d}", color="white", fontsize=5,
                 ha="center", va="center")
        fig.add_artist(Rectangle(px(x, 657), 10 / W, 7 / H, facecolor=c,
                                 edgecolor="none", transform=fig.transFigure))

    fig.add_artist(Rectangle(px(20, 699.5), 420 / W, 32.5 / H, facecolor="none",
                             edgecolor="white", lw=1.0, transform=fig.transFigure))
    fig.text(*px(30, 677), "Diagramme des ensembles GEFS sur 384h : 52.1N 5.2E",
             color="white", fontsize=8.2, fontweight="bold", va="center")
    fig.text(*px(30, 692), "Température 2m (°C) , précipitations (mm)",
             color="white", fontsize=7, va="center")
    fig.text(*px(450, 672), "Ensemble GEFS du 24/01/2012 - 12h",
             color="white", fontsize=7, va="center")
    fig.text(*px(450, 692), "Copyright 2012 Meteociel.fr",
             color="white", fontsize=8.2, fontweight="bold", va="center")

    fig.savefig("out.png", dpi=100, facecolor="black")


if __name__ == "__main__":
    main()
